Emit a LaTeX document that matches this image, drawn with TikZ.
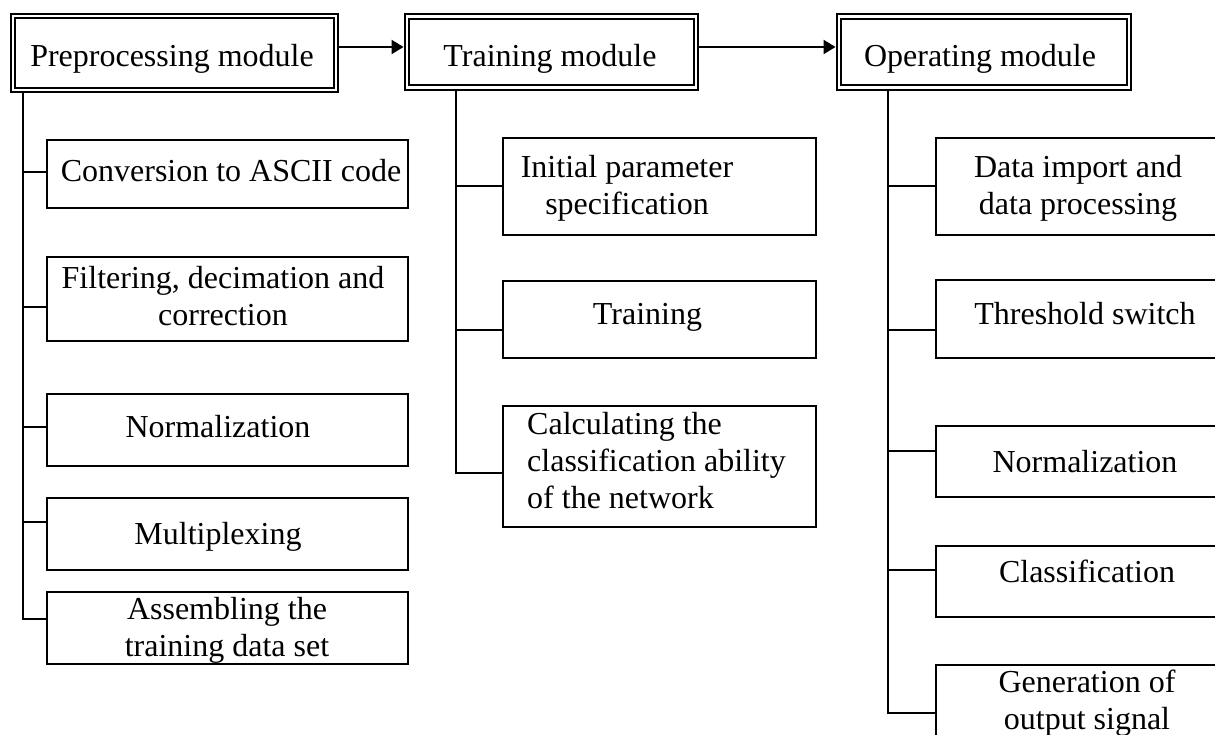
\documentclass[tikz,border=0pt]{standalone}
\usepackage{fontspec}
\setmainfont{Liberation Serif}
\usetikzlibrary{arrows.meta}
\begin{document}
\begin{tikzpicture}[x=1pt,y=-1pt,
  txt/.style={inner sep=0pt, font=\fontsize{32}{37}\selectfont, align=center},
  head/.style={draw, line width=2.2pt, double, double distance=2.5pt, inner sep=0pt, outer sep=3.45pt},
  boxw/.style={draw, line width=2pt, inner sep=0pt, outer sep=0pt},
  conn/.style={line width=2pt},
  arr/.style={line width=2pt, -{Triangle[length=12pt,width=14pt]}}]
\useasboundingbox (0,0) rectangle (1215,735);
% header modules
\node[head, minimum width=323pt, minimum height=74pt] (pre) at (174.5,53) {};
\node[head, minimum width=289pt, minimum height=71pt] (trn) at (551.5,52) {};
\node[head, minimum width=290pt, minimum height=71pt] (op) at (984,52) {};
\node[txt, anchor=base] (tpre) at (172,67) {Preprocessing module};
\node[txt, anchor=base] (ttrn) at (550,67) {Training module};
\node[txt, anchor=base] (top) at (980,67) {Operating module};
\draw[arr] ([yshift=6pt]pre.east) -- ([yshift=6pt]pre.east -| trn.west);
\draw[arr] ([yshift=5pt]trn.east) -- ([yshift=5pt]trn.east -| op.west);
% left column
\node[boxw, minimum width=361pt, minimum height=68pt] (c1) at (227.5,174) {};
\node[boxw, minimum width=361pt, minimum height=84pt] (c2) at (227.5,299) {};
\node[boxw, minimum width=361pt, minimum height=72pt] (c3) at (227.5,430) {};
\node[boxw, minimum width=361pt, minimum height=72pt] (c4) at (227.5,534) {};
\node[boxw, minimum width=361pt, minimum height=72pt] (c5) at (227.5,628) {};
\node[txt, anchor=base] (tc1) at (231,182) {Conversion to ASCII code};
\node[txt, anchor=base] (tc2) at (223,325) {Filtering, decimation and\\correction};
\node[txt, anchor=base] (tc3) at (218,437) {Normalization};
\node[txt, anchor=base] (tc4) at (218,544) {Multiplexing};
\node[txt, anchor=base] (tc5) at (227,656) {Assembling the\\training data set};
\coordinate (s1) at ([xshift=13pt]pre.south west);
\draw[conn] (s1) |- ([yshift=9pt]c5.west);
\draw[conn] ([yshift=2pt]c1.west) -- ([yshift=2pt]c1.west -| s1);
\draw[conn] ([yshift=-8pt]c2.west) -- ([yshift=-8pt]c2.west -| s1);
\draw[conn] ([yshift=3pt]c3.west) -- ([yshift=3pt]c3.west -| s1);
\draw[conn] ([yshift=12pt]c4.west) -- ([yshift=12pt]c4.west -| s1);
% middle column
\node[boxw, minimum width=313pt, minimum height=97pt] (m1) at (659.5,186.5) {};
\node[boxw, minimum width=313pt, minimum height=77pt] (m2) at (659.5,319.5) {};
\node[boxw, minimum width=313pt, minimum height=121pt] (m3) at (659.5,466.5) {};
\node[txt, anchor=base] (tm1) at (627,215) {Initial parameter\\specification};
\node[txt, anchor=base] (tm2) at (647.5,324) {Training};
\node[txt, anchor=base west, align=left] (tm3) at (527,508) {Calculating the\\classification ability\\of the network};
\coordinate (s2) at ([xshift=52pt]trn.south west);
\draw[conn] (s2) |- ([yshift=-6.5pt]m3.west);
\draw[conn] (m1.west) -- (m1.west -| s2);
\draw[conn] ([yshift=-10.5pt]m2.west) -- ([yshift=-10.5pt]m2.west -| s2);
% right column
\node[boxw, minimum width=296pt, minimum height=97pt] (r1) at (1084,186.5) {};
\node[boxw, minimum width=296pt, minimum height=78pt] (r2) at (1084,319) {};
\node[boxw, minimum width=296pt, minimum height=71pt] (r3) at (1084,461.5) {};
\node[boxw, minimum width=296pt, minimum height=71pt] (r4) at (1084,581.5) {};
\node[boxw, minimum width=296pt, minimum height=110pt] (r5) at (1084,720) {};
\node[txt, anchor=base] (tr1) at (1078,215) {Data import and\\data processing};
\node[txt, anchor=base] (tr2) at (1085,324) {Threshold switch};
\node[txt, anchor=base] (tr3) at (1085,472) {Normalization};
\node[txt, anchor=base] (tr4) at (1087,582) {Classification};
\node[txt, anchor=base] (tr5) at (1087,729) {Generation of\\output signal};
\coordinate (s3) at ([xshift=52pt]op.south west);
\draw[conn] (s3) |- ([yshift=7pt]r5.west);
\draw[conn] (r1.west) -- (r1.west -| s3);
\draw[conn] ([yshift=-11pt]r2.west) -- ([yshift=-11pt]r2.west -| s3);
\draw[conn] ([yshift=10.5pt]r3.west) -- ([yshift=10.5pt]r3.west -| s3);
\draw[conn] ([yshift=11.5pt]r4.west) -- ([yshift=11.5pt]r4.west -| s3);
\end{tikzpicture}
\end{document}
